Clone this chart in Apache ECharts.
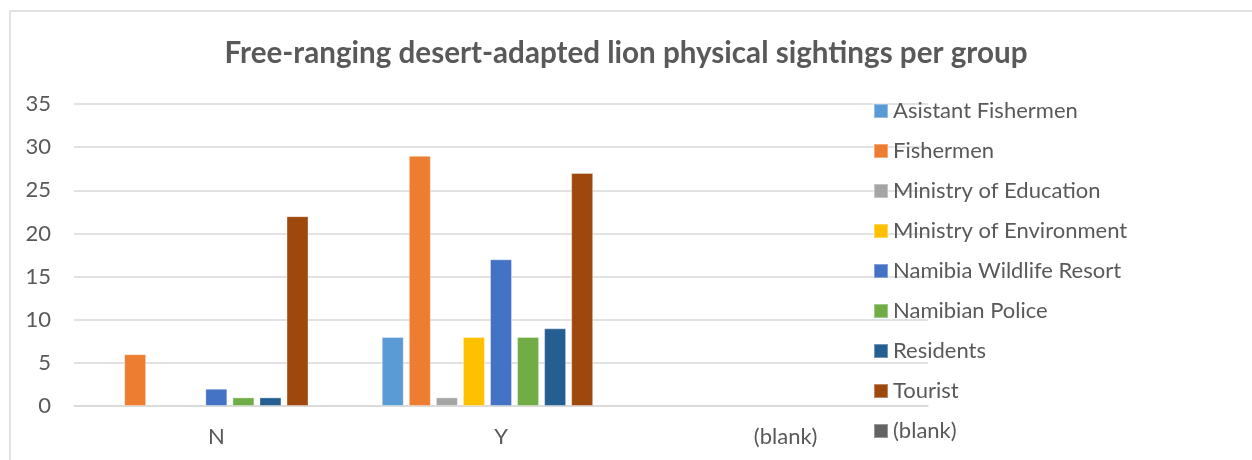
<!DOCTYPE html>
<html>
<head>
<meta charset="utf-8">
<script src="https://cdn.jsdelivr.net/npm/echarts@6/dist/echarts.min.js"></script>
<style>
    html, body { margin: 0; padding: 0; background: #fff; }
    #chart { width: 1252px; height: 460px; }
</style>
</head>
<body>
<div id="chart"></div>
<script>
    const categories = ['N', 'Y', '(blank)'];
    const groups = ['Asistant Fishermen', 'Fishermen', 'Ministry of Education', 'Ministry of Environment',
        'Namibia Wildlife Resort', 'Namibian Police', 'Residents', 'Tourist', '(blank)'];
    const asistantFishermen = [null, 8, null];
    const fishermen = [6, 29, null];
    const ministryEducation = [null, 1, null];
    const ministryEnvironment = [null, 8, null];
    const namibiaWildlifeResort = [2, 17, null];
    const namibianPolice = [1, 8, null];
    const residents = [1, 9, null];
    const tourist = [22, 27, null];
    const blank = [null, null, null];
    const yTicks = { min: 0, max: 35, interval: 5 };

    const seriesData = [asistantFishermen, fishermen, ministryEducation, ministryEnvironment,
        namibiaWildlifeResort, namibianPolice, residents, tourist, blank];
    const colors = ['#5B9BD5', '#ED7D31', '#A5A5A5', '#FFC000', '#4472C4', '#70AD47', '#255E91', '#9E480E', '#636363'];
    const textColor = '#595959';
    const font = 'Lato, "Open Sans", sans-serif';

    const chart = echarts.init(document.getElementById('chart'));
    chart.setOption({
        animation: false,
        color: colors,
        title: {
            text: 'Free-ranging desert-adapted lion physical sightings per group',
            left: 'center',
            top: 38,
            padding: [0, 0, 0, 10],
            textStyle: { color: textColor, fontSize: 29.6, fontWeight: 'bold', fontFamily: font }
        },
        graphic: [{
            type: 'rect',
            shape: { x: 10, y: 11, width: 1400, height: 600 },
            style: { fill: 'none', stroke: '#d9d9d9', lineWidth: 1.5 },
            silent: true
        }],
        legend: {
            orient: 'vertical',
            left: 873,
            top: 100,
            height: 400,
            padding: 0,
            itemWidth: 14,
            itemHeight: 14,
            itemGap: 18,
            icon: 'rect',
            data: groups,
            textStyle: { color: textColor, fontSize: 22, fontFamily: font }
        },
        grid: { left: 74, right: 324, top: 104, bottom: 54 },
        xAxis: {
            type: 'category',
            data: categories,
            axisLine: { lineStyle: { color: '#d9d9d9', width: 1.5 } },
            axisTick: { show: false },
            axisLabel: { color: textColor, fontSize: 22, fontFamily: font, margin: 20 }
        },
        yAxis: {
            type: 'value',
            min: yTicks.min,
            max: yTicks.max,
            interval: yTicks.interval,
            axisLine: { show: false },
            axisTick: { show: false },
            splitLine: { lineStyle: { color: '#d9d9d9', width: 1.5 } },
            axisLabel: { color: textColor, fontSize: 22, fontFamily: font, margin: 23 }
        },
        series: groups.map((name, i) => ({
            name: name,
            type: 'bar',
            data: seriesData[i],
            barWidth: 22,
            barGap: '23%',
            itemStyle: { borderColor: 'rgba(255,255,255,0.35)', borderWidth: 1 }
        }))
    });
</script>
</body>
</html>
